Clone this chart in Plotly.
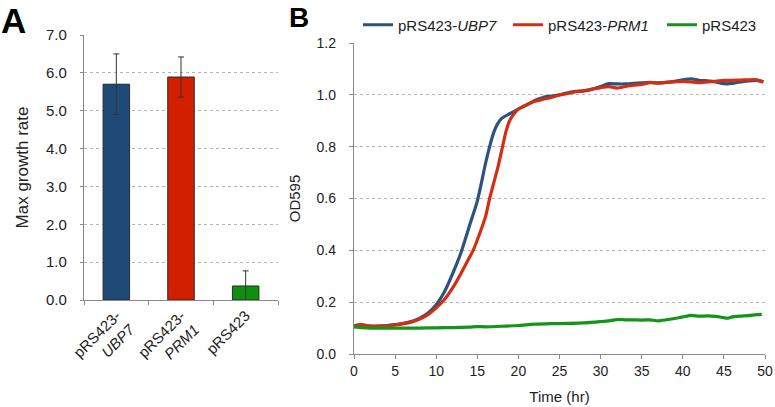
import plotly.graph_objects as go

# ---- Panel A data ----
categories = ["pRS423-<br><i>UBP7</i>", "pRS423-<br><i>PRM1</i>", "pRS423"]
max_growth = [5.70, 5.89, 0.37]
max_growth_err = [0.80, 0.53, 0.40]
bar_colors = ["#1F4A78", "#D21F00", "#0E8F0E"]

# ---- Panel B data ----
t_ubp7 = [0, 1, 2, 3, 4, 5, 6, 7, 8, 9, 10, 11, 12, 13, 14, 15, 16, 16.5, 17, 17.5,
          18, 19, 20, 21, 22, 23, 24, 25, 26, 27, 28, 29, 30, 31, 32, 33, 34, 35,
          36, 37, 38, 39, 40, 41, 42, 43, 44, 45, 46, 47, 48, 49, 49.8]
od_ubp7 = [0.105, 0.108, 0.107, 0.108, 0.110, 0.113, 0.118, 0.125, 0.138, 0.158, 0.190,
           0.240, 0.310, 0.390, 0.490, 0.590, 0.735, 0.800, 0.855, 0.890,
           0.910, 0.928, 0.945, 0.960, 0.978, 0.990, 0.995, 1.000, 1.008, 1.013,
           1.015, 1.022, 1.032, 1.043, 1.042, 1.042, 1.044, 1.046, 1.048, 1.046,
           1.048, 1.052, 1.058, 1.062, 1.056, 1.054, 1.050, 1.043, 1.044, 1.050,
           1.054, 1.056, 1.050]

t_prm1 = [0, 0.5, 1, 2, 3, 4, 5, 6, 7, 8, 9, 10, 11, 12, 13, 14, 14.5, 15, 16, 16.5,
          17, 17.5, 18, 18.5, 19, 19.6, 20, 21, 22, 23, 24, 25, 26, 27, 28, 29, 30,
          31, 32, 33, 34, 35, 36, 37, 38, 39, 40, 41, 42, 43, 44, 45, 46, 47, 48,
          49, 49.8]
od_prm1 = [0.108, 0.113, 0.113, 0.108, 0.108, 0.109, 0.112, 0.117, 0.124, 0.135, 0.152,
           0.178, 0.210, 0.255, 0.310, 0.370, 0.400, 0.440, 0.530, 0.600,
           0.660, 0.720, 0.790, 0.860, 0.905, 0.932, 0.945, 0.962, 0.975, 0.983,
           0.990, 1.000, 1.005, 1.012, 1.016, 1.022, 1.028, 1.032, 1.026, 1.032,
           1.037, 1.040, 1.047, 1.045, 1.048, 1.050, 1.052, 1.050, 1.047, 1.050,
           1.052, 1.056, 1.056, 1.057, 1.058, 1.058, 1.050]

t_ctrl = [0, 1, 2, 4, 6, 8, 10, 12, 14, 15, 16, 18, 20, 22, 24, 26, 28, 30, 31, 32,
          33, 34, 35, 36, 37, 38, 39, 40, 41, 42, 43, 44, 45, 45.5, 46, 47, 48, 49, 49.6]
od_ctrl = [0.105, 0.102, 0.100, 0.100, 0.100, 0.100, 0.101, 0.102, 0.104, 0.106, 0.105,
           0.107, 0.110, 0.115, 0.117, 0.118, 0.120, 0.125, 0.128, 0.133, 0.132,
           0.132, 0.131, 0.132, 0.128, 0.132, 0.137, 0.143, 0.149, 0.146, 0.147,
           0.145, 0.140, 0.138, 0.143, 0.146, 0.148, 0.152, 0.153]

line_names = ["pRS423-<i>UBP7</i>", "pRS423-<i>PRM1</i>", "pRS423"]
line_colors = ["#2B5281", "#D42E12", "#14951A"]
legend_ids = ["legend", "legend2", "legend3"]

x_ticks = [0, 5, 10, 15, 20, 25, 30, 35, 40, 45, 50]
y_ticks_b = [0.0, 0.2, 0.4, 0.6, 0.8, 1.0, 1.2]

FONT = "Liberation Sans, Arial, sans-serif"
W, H = 775, 407

fig = go.Figure()

fig.add_trace(go.Bar(
    x=categories, y=max_growth,
    marker=dict(color=bar_colors, line=dict(color="#2a2a2a", width=1)),
    error_y=dict(type="data", array=max_growth_err, color="#333333", thickness=1, width=3),
    width=0.41, showlegend=False, xaxis="x", yaxis="y",
))

for tx, ty, nm, col, lg in zip([t_ubp7, t_prm1, t_ctrl], [od_ubp7, od_prm1, od_ctrl],
                               line_names, line_colors, legend_ids):
    fig.add_trace(go.Scatter(
        x=tx, y=ty, mode="lines", name=nm, legend=lg,
        line=dict(color=col, width=3.2, shape="spline", smoothing=0.6),
        xaxis="x2", yaxis="y2",
    ))

grid = dict(showgrid=True, gridcolor="#b5b5b5", griddash="dot", gridwidth=1)
axline = dict(showline=True, linecolor="#8a8a8a", linewidth=1.3, automargin=False)

def legend_at(text_left):
    return dict(orientation="h", x=(text_left - 40) / W, xanchor="left",
                y=(H - 25) / H, yanchor="middle", font=dict(size=15),
                bgcolor="rgba(0,0,0,0)", itemclick=False, borderwidth=0)

fig.update_layout(
    width=W, height=H,
    margin=dict(l=0, r=0, t=0, b=0),
    paper_bgcolor="white", plot_bgcolor="white",
    font=dict(family=FONT, size=13, color="#222222"),
    xaxis=dict(domain=[84 / W, 278 / W], anchor="y", type="category",
               range=[-0.5, 2.5], tickson="boundaries", ticks="outside", ticklen=4,
               tickcolor="#8a8a8a", tickangle=-45, showgrid=False, **axline,
               tickfont=dict(size=15)),
    yaxis=dict(domain=[(H - 300) / H, (H - 35) / H], anchor="x", range=[0, 7],
               dtick=1, tickformat=".1f", ticks="outside", ticklen=3,
               tickcolor="#8a8a8a", ticklabelstandoff=10, zeroline=False,
               title=dict(text="Max growth rate", font=dict(size=17), standoff=13),
               tickfont=dict(size=15), **grid, **axline),
    xaxis2=dict(domain=[354 / W, 765 / W], anchor="y2", range=[0, 50],
                tickvals=x_ticks, ticks="outside", ticklen=4, tickcolor="#8a8a8a",
                showgrid=False, zeroline=False, **axline,
                title=dict(text="Time (hr)", font=dict(size=15), standoff=13),
                tickfont=dict(size=14)),
    yaxis2=dict(domain=[(H - 354) / H, (H - 43) / H], anchor="x2", range=[0, 1.2],
                tickvals=y_ticks_b, tickformat=".1f", ticks="outside", ticklen=4,
                tickcolor="#8a8a8a", ticklabelstandoff=10, zeroline=False,
                title=dict(text="OD595", font=dict(size=15), standoff=12),
                tickfont=dict(size=14), **grid, **axline),
    legend=legend_at(398),
    legend2=legend_at(548),
    legend3=legend_at(702),
    annotations=[
        dict(text="<b>A</b>", x=0, y=1.0, xref="paper", yref="paper",
             xanchor="left", yanchor="top", showarrow=False, borderpad=0,
             font=dict(size=35, color="black", family=FONT)),
        dict(text="<b>B</b>", x=287 / W, y=1.0, xref="paper", yref="paper",
             xanchor="left", yanchor="top", showarrow=False,
             font=dict(size=28, color="black", family=FONT)),
    ],
)

fig.write_html("out.html", config={"displayModeBar": False},
               post_script="document.body.style.margin='0';")
